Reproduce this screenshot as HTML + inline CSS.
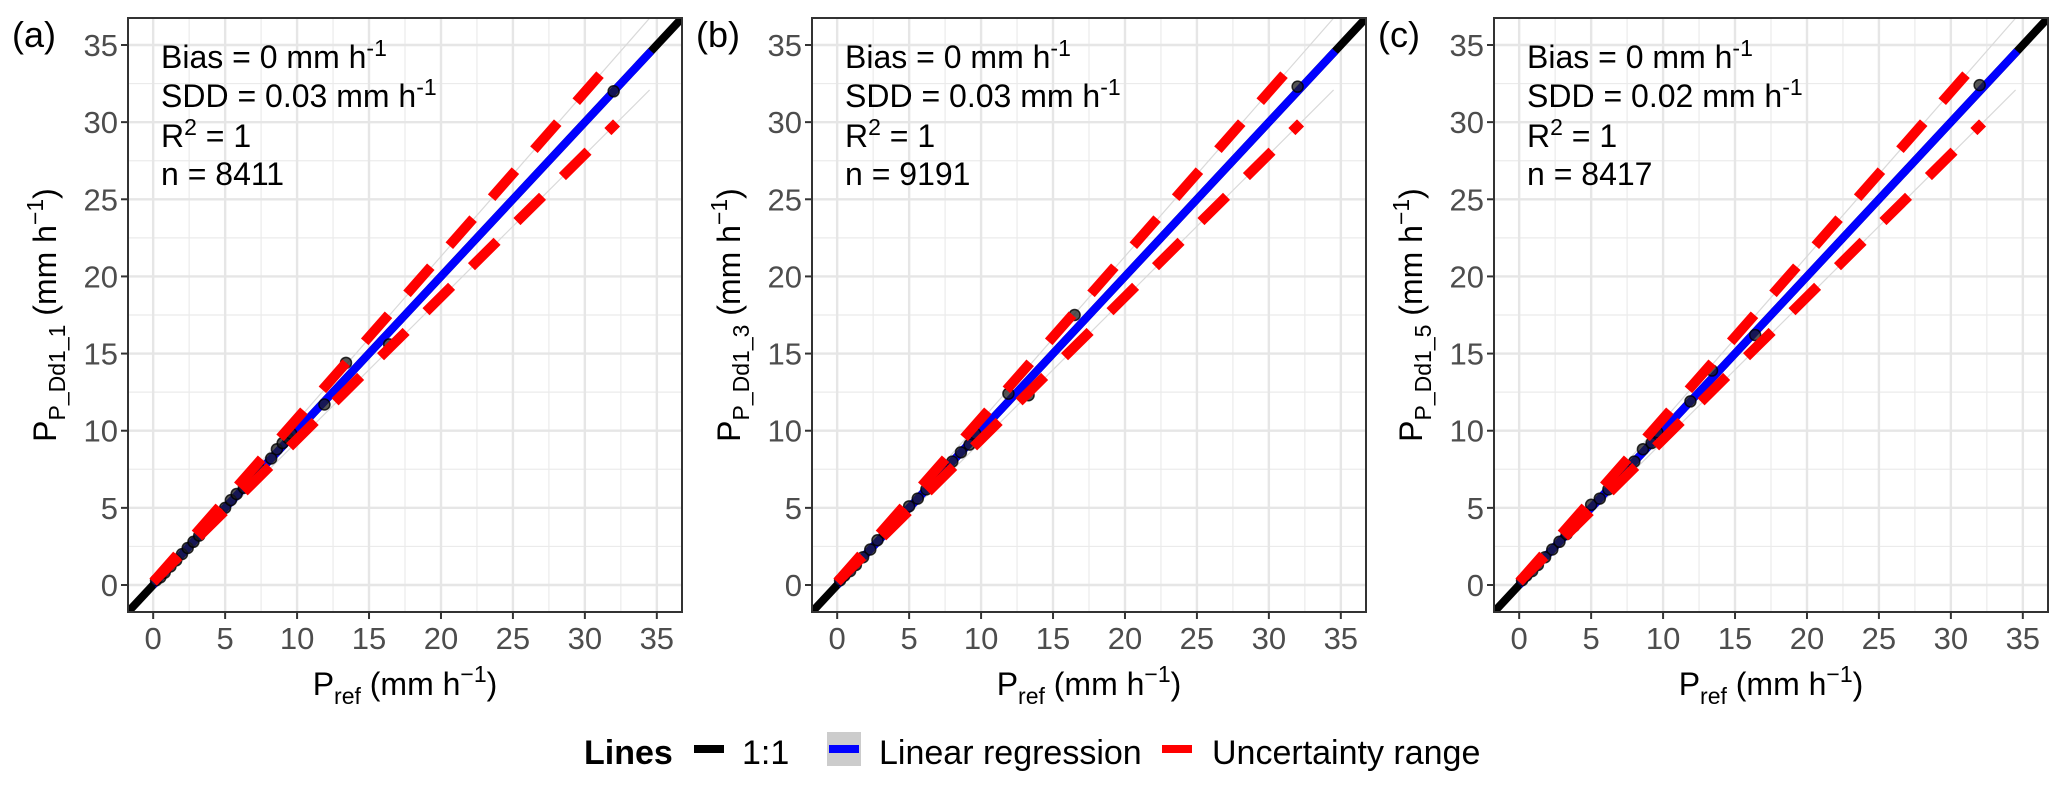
<!DOCTYPE html>
<html><head><meta charset="utf-8"><style>
body{margin:0;background:#fff;}
svg{display:block;font-family:"Liberation Sans",Arial,sans-serif;}
</style></head><body>
<svg id="chart" width="2067" height="787" viewBox="0 0 2067 787"></svg>
<script>
const panelLabels = ["(a)", "(b)", "(c)"];
const yTitleSubs = ["P_Dd1_1", "P_Dd1_3", "P_Dd1_5"];
const biasTexts = ["0", "0", "0"];
const sddTexts = ["0.03", "0.03", "0.02"];
const r2Texts = ["1", "1", "1"];
const nTexts = ["8411", "9191", "8417"];
const tickValues = [0, 5, 10, 15, 20, 25, 30, 35];
const regEnd = [34.6, 34.6, 34.6];
const uncUpperFactor = 1.065;
const uncLowerFactor = 0.93;
const uncEnd = 32.2;
const ptsAx = [0.2,0.5,0.8,1.2,1.6,2.0,2.4,2.8,3.2,3.6,4.2,4.6,5.0,5.4,5.8,6.3,6.8,7.4,8.2,8.6,9.0,9.4,9.6,11.9,13.4,16.4,32.0];
const ptsAy = [0.3,0.5,0.8,1.2,1.6,2.0,2.4,2.8,3.2,3.8,4.5,4.6,5.0,5.5,5.9,6.3,6.9,7.5,8.2,8.8,9.2,9.5,9.8,11.7,14.4,15.6,32.0];
const ptsBx = [0.2,0.5,0.9,1.3,1.8,2.3,2.8,3.3,3.8,4.4,5.0,5.6,6.2,6.8,7.4,8.0,8.6,9.2,9.6,11.9,13.3,16.5,32.0];
const ptsBy = [0.3,0.6,0.9,1.3,1.8,2.3,2.9,3.4,3.9,4.5,5.1,5.6,6.2,6.9,7.4,8.0,8.6,9.1,9.8,12.4,12.3,17.5,32.3];
const ptsCx = [0.2,0.5,0.9,1.3,1.8,2.3,2.8,3.3,3.8,4.4,5.0,5.6,6.2,6.8,7.4,8.0,8.6,9.2,9.6,11.9,13.4,16.4,32.0];
const ptsCy = [0.3,0.6,0.9,1.3,1.8,2.3,2.8,3.3,3.8,4.5,5.2,5.6,6.2,6.8,7.4,8.0,8.8,9.2,9.9,11.9,13.9,16.2,32.4];
const ptsX = [ptsAx, ptsBx, ptsCx];
const ptsY = [ptsAy, ptsBy, ptsCy];

const NS = "http://www.w3.org/2000/svg";
const svg = document.getElementById("chart");
function mk(tag, attrs, parent){const e=document.createElementNS(NS,tag);for(const k in attrs)e.setAttribute(k,attrs[k]);(parent||svg).appendChild(e);return e;}
const lefts=[128,812,1494], W=554, TOP=18, BOT=612, H=BOT-TOP;
const dmin=-1.75, dmax=36.75;
const defs=mk("defs",{});
lefts.forEach((L,i)=>{
  const sx=v=>L+(v-dmin)/(dmax-dmin)*W;
  const sy=v=>BOT-(v-dmin)/(dmax-dmin)*H;
  const cp=mk("clipPath",{id:"clip"+i},defs);
  mk("rect",{x:L,y:TOP,width:W,height:H},cp);
  const g=mk("g",{});
  
  
  mk("rect",{x:L,y:TOP,width:W,height:H,fill:"#fff"},g);
  for(let v=2.5;v<36;v+=5){
    mk("line",{x1:sx(v),x2:sx(v),y1:TOP,y2:BOT,stroke:"#ebebeb","stroke-width":1.2},g);
    mk("line",{y1:sy(v),y2:sy(v),x1:L,x2:L+W,stroke:"#ebebeb","stroke-width":1.2},g);
  }
  tickValues.forEach(v=>{
    mk("line",{x1:sx(v),x2:sx(v),y1:TOP,y2:BOT,stroke:"#e6e6e6","stroke-width":2.4},g);
    mk("line",{y1:sy(v),y2:sy(v),x1:L,x2:L+W,stroke:"#e6e6e6","stroke-width":2.4},g);
  });
  const pg=mk("g",{"clip-path":"url(#clip"+i+")"},g);
  [uncUpperFactor,uncLowerFactor].forEach(f=>{
    mk("line",{x1:sx(0),y1:sy(0),x2:sx(34.5),y2:sy(34.5*f),stroke:"#d9d9d9","stroke-width":1.2},pg);
  });
  const one=mk("line",{x1:sx(-3),y1:sy(-3),x2:sx(40),y2:sy(40),stroke:"#000","stroke-width":8},pg);
  
  
  const reg=mk("line",{x1:sx(0),y1:sy(0),x2:sx(regEnd[i]),y2:sy(regEnd[i]),stroke:"#0000ff","stroke-width":8},pg);
  
  
  ptsX[i].forEach((x,j)=>{
    const c=mk("circle",{cx:sx(x),cy:sy(ptsY[i][j]),r:5.5,fill:"rgba(30,30,30,0.75)",stroke:"rgba(0,0,0,0.8)","stroke-width":1.5},pg);
    
    
  });
  [uncUpperFactor,uncLowerFactor].forEach((f,k)=>{
    const u=mk("line",{x1:sx(0),y1:sy(0.2),x2:sx(uncEnd),y2:sy(uncEnd*f),stroke:"#ff0000","stroke-width":10,"stroke-dasharray":"36 28"},pg);
    
    
  });
  mk("rect",{x:L,y:TOP,width:W,height:H,fill:"none",stroke:"#333","stroke-width":2},g);
  tickValues.forEach(v=>{
    mk("line",{x1:sx(v),x2:sx(v),y1:BOT,y2:BOT+7,stroke:"#333","stroke-width":2},g);
    mk("line",{y1:sy(v),y2:sy(v),x1:L-7,x2:L,stroke:"#333","stroke-width":2},g);
    const xt=mk("text",{x:sx(v),y:BOT+37,"text-anchor":"middle","font-size":31,fill:"#4d4d4d"},g);
    xt.textContent=v;
    
    
    const yt=mk("text",{x:L-10,y:sy(v)+11,"text-anchor":"end","font-size":31,fill:"#4d4d4d"},g);
    yt.textContent=v;
    
    
  });
  const pl=mk("text",{x:L-116,y:47,"font-size":36,fill:"#000"},g);
  pl.textContent=panelLabels[i];
  
  
  const ann=mk("text",{x:L+33,y:68,"font-size":32,fill:"#000"},g);
  
  
  ann.innerHTML=`<tspan x="${L+33}" y="68">Bias = ${biasTexts[i]} mm h<tspan dy="-12" font-size="23">-1</tspan></tspan>`+
   `<tspan x="${L+33}" y="107">SDD = ${sddTexts[i]} mm h<tspan dy="-12" font-size="23">-1</tspan></tspan>`+
   `<tspan x="${L+33}" y="147">R<tspan dy="-12" font-size="23">2</tspan><tspan dy="12"> = ${r2Texts[i]}</tspan></tspan>`+
   `<tspan x="${L+33}" y="185">n = ${nTexts[i]}</tspan>`;
  const xtitle=mk("text",{x:L+W/2,y:695,"text-anchor":"middle","font-size":32,fill:"#000"},g);
  
  
  xtitle.innerHTML=`P<tspan dy="9" font-size="23">ref</tspan><tspan dy="-9"> (mm h</tspan><tspan dy="-13" font-size="23">−1</tspan><tspan dy="13">)</tspan>`;
  const ytitle=mk("text",{x:0,y:0,"text-anchor":"middle","font-size":32,fill:"#000",transform:`translate(${L-72},${TOP+H/2}) rotate(-90)`},g);
  
  
  ytitle.innerHTML=`P<tspan dy="9" font-size="23">${yTitleSubs[i]}</tspan><tspan dy="-9"> (mm h</tspan><tspan dy="-13" font-size="23">−1</tspan><tspan dy="13">)</tspan>`;
});
const lg=mk("g",{});


const lt=mk("text",{x:584,y:764,"font-size":34,"font-weight":"bold",fill:"#000"},lg);
lt.textContent="Lines";
mk("rect",{x:692,y:732,width:34,height:34,fill:"#fff"},lg);
mk("line",{x1:694,x2:724,y1:749,y2:749,stroke:"#000","stroke-width":8},lg);
const t1=mk("text",{x:742,y:764,"font-size":34,fill:"#000"},lg);t1.textContent="1:1";


mk("rect",{x:827,y:732,width:34,height:34,fill:"#cccccc"},lg);
mk("line",{x1:829,x2:859,y1:749,y2:749,stroke:"#0000ff","stroke-width":8},lg);
const t2=mk("text",{x:879,y:764,"font-size":34,fill:"#000"},lg);t2.textContent="Linear regression";


mk("line",{x1:1162,x2:1192,y1:749,y2:749,stroke:"#ff0000","stroke-width":8},lg);
const t3=mk("text",{x:1212,y:764,"font-size":34,fill:"#000"},lg);t3.textContent="Uncertainty range";


</script>
</body></html>
